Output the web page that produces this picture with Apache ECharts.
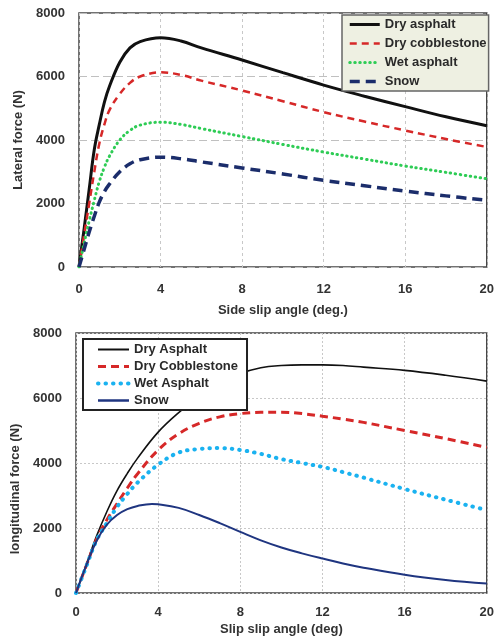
<!DOCTYPE html>
<html><head><meta charset="utf-8">
<script src="https://cdn.jsdelivr.net/npm/echarts@6/dist/echarts.min.js"></script>
<style>html,body{margin:0;padding:0;background:#fff}#c{width:497px;height:639px}</style>
</head><body><div id="c"></div>
<script>
// ---- Top chart: lateral force vs side slip angle ----
const topX = [0,0.25,0.5,0.75,1,1.25,1.5,2,2.5,3,4,5,6,8,10,12,14,16,18,20];
const topDryAsphalt   = [0,1200,2450,3700,4500,5200,5700,6450,6900,7100,7220,7120,6900,6520,6120,5730,5380,5050,4730,4450];
const topDryCobble    = [0,1000,2000,3000,3900,4500,4950,5450,5800,6000,6130,6050,5870,5560,5220,4880,4580,4300,4030,3780];
const topWetAsphalt   = [0,750,1450,2100,2700,3150,3500,4000,4300,4470,4560,4490,4360,4110,3860,3620,3400,3180,2980,2780];
const topSnow         = [0,550,1100,1600,2050,2380,2620,3000,3250,3380,3460,3410,3310,3120,2930,2730,2560,2390,2240,2100];
const topNames = ['Dry asphalt','Dry cobblestone','Wet asphalt','Snow'];

// ---- Bottom chart: longitudinal force vs slip angle ----
const botX = [0,0.5,1,1.5,2,2.5,3,4,5,6,7,8,9,10,11,12,13,14,16,18,20];
const botDryAsphalt = [0,870,1750,2500,3150,3680,4150,4950,5550,6050,6450,6750,6930,7000,7020,7020,7000,6950,6850,6700,6520];
const botDryCobble  = [0,840,1650,2250,2750,3230,3670,4400,4900,5220,5420,5520,5560,5560,5520,5440,5350,5250,5000,4750,4480];
const botWetAsphalt = [0,820,1620,2150,2650,3050,3400,3950,4320,4430,4460,4400,4280,4120,4000,3880,3720,3550,3200,2870,2550];
const botSnowX = [0,0.5,1,1.5,2,2.5,3,3.7,4,5,6,7,8,9,10,11,12,13,14,16,18,20];
const botSnow  = [0,850,1600,2100,2400,2580,2680,2740,2730,2620,2400,2150,1880,1620,1400,1220,1060,910,780,560,400,290];
// trailing space keeps the bottom "Snow" series distinct from the top one (trimmed in the legend)
const botNames = ['Dry Asphalt','Dry Cobblestone','Wet Asphalt','Snow '];

const xTicks = [0,4,8,12,16,20];
const yTicks = [0,2000,4000,6000,8000];

const pair = (xs, ys) => xs.map((x,i)=>[x, ys[i]]);
const font = 'Liberation Sans, Arial, sans-serif';
const txt = '#333';

function xAxis(idx, name, gridLine, labelMargin, gap) {
  return {
    type:'value', gridIndex: idx, min: xTicks[0], max: xTicks[xTicks.length-1], interval: 4,
    name: name, nameLocation:'middle', nameGap: gap,
    nameTextStyle:{fontFamily:font, fontSize:13, fontWeight:'bold', color:txt},
    axisLine:{show:false}, axisTick:{show:false},
    axisLabel:{fontFamily:font, fontSize:13, fontWeight:'bold', color:txt, margin:labelMargin, formatter: v => String(v)},
    splitLine:{show:true, lineStyle: gridLine}
  };
}
function yAxis(idx, name, gridLine, gap, pad) {
  return {
    type:'value', gridIndex: idx, min: yTicks[0], max: yTicks[yTicks.length-1], interval: 2000,
    name: name, nameLocation:'middle', nameGap: gap,
    nameTextStyle:{fontFamily:font, fontSize:13, fontWeight:'bold', color:txt, padding: pad},
    axisLine:{show:false}, axisTick:{show:false},
    axisLabel:{fontFamily:font, fontSize:13, fontWeight:'bold', color:txt, margin:14, formatter: v => String(v)},
    splitLine:{show:true, lineStyle: gridLine}
  };
}
function line(name, data, xi, color, width, type, cap) {
  return { name, type:'line', xAxisIndex:xi, yAxisIndex:xi, data, smooth:0.4, symbol:'none',
    lineStyle:{color, width, type, cap: cap || 'butt'}, itemStyle:{color, opacity:0}, z:3 };
}
const legItem = (name, width) => ({name, lineStyle:{width}});

const chart = echarts.init(document.getElementById('c'), null, {renderer:'canvas'});
chart.setOption({
  animation:false,
  backgroundColor:'#fff',
  grid:[
    {left:79, top:13, width:412, height:254, show:true, borderColor:'#444', borderWidth:1.5, backgroundColor:'transparent'},
    {left:76, top:333, width:412, height:260, show:true, borderColor:'#444', borderWidth:1.5, backgroundColor:'transparent'}
  ],
  xAxis:[
    xAxis(0,'Side slip angle (deg.)', {color:'#c8c8c8', type:[3,3], width:1}, 16, 37),
    xAxis(1,'Slip slip angle (deg)', {color:'#c8c8c8', type:[2,2], width:1}, 13, 30)
  ],
  yAxis:[
    yAxis(0,'Lateral force (N)', {color:'#c0c0c0', type:[8,4], width:1}, 49, 0),
    yAxis(1,'longitudinal force (N)', {color:'#c8c8c8', type:[2,2], width:1}, 48, [0,52,0,0])
  ],
  legend:[
    {data: [legItem(topNames[0],3), legItem(topNames[1],2.5), legItem(topNames[2],3), legItem(topNames[3],3.5)],
     left:342, top:15, orient:'vertical', itemWidth:30, itemHeight:12, itemGap:6,
     backgroundColor:'#eef0e2', borderColor:'#666', borderWidth:1.5, padding:[3,2,3,6],
     itemStyle:{opacity:0},
     textStyle:{fontFamily:font, fontSize:13, fontWeight:'bold', color:'#2a2a2a'}},
    {data: [legItem(botNames[0],2), legItem(botNames[1],3), legItem(botNames[2],4), legItem(botNames[3],2.5)],
     left:83, top:339, orient:'vertical', itemWidth:31, itemHeight:12, itemGap:4,
     backgroundColor:'#fff', borderColor:'#222', borderWidth:2, padding:[4,9,3,13],
     itemStyle:{opacity:0}, formatter: n => n.trim(),
     textStyle:{fontFamily:font, fontSize:13, fontWeight:'bold', color:'#2a2a2a'}}
  ],
  series:[
    line(topNames[0], pair(topX, topDryAsphalt), 0, '#111', 3, 'solid'),
    line(topNames[1], pair(topX, topDryCobble), 0, '#d62828', 2.5, [7,5]),
    line(topNames[2], pair(topX, topWetAsphalt), 0, '#2ecc55', 3, [0.5,4.5], 'round'),
    line(topNames[3], pair(topX, topSnow), 0, '#1b2d6b', 3.5, [10,6]),
    line(botNames[0], pair(botX, botDryAsphalt), 1, '#111', 1.6, 'solid'),
    line(botNames[1], pair(botX, botDryCobble), 1, '#d62828', 3, [8,5]),
    line(botNames[2], pair(botX, botWetAsphalt), 1, '#1ab2f0', 4, [0.5,7], 'round'),
    line(botNames[3], pair(botSnowX, botSnow), 1, '#1f3580', 2, 'solid')
  ]
});
</script></body></html>
